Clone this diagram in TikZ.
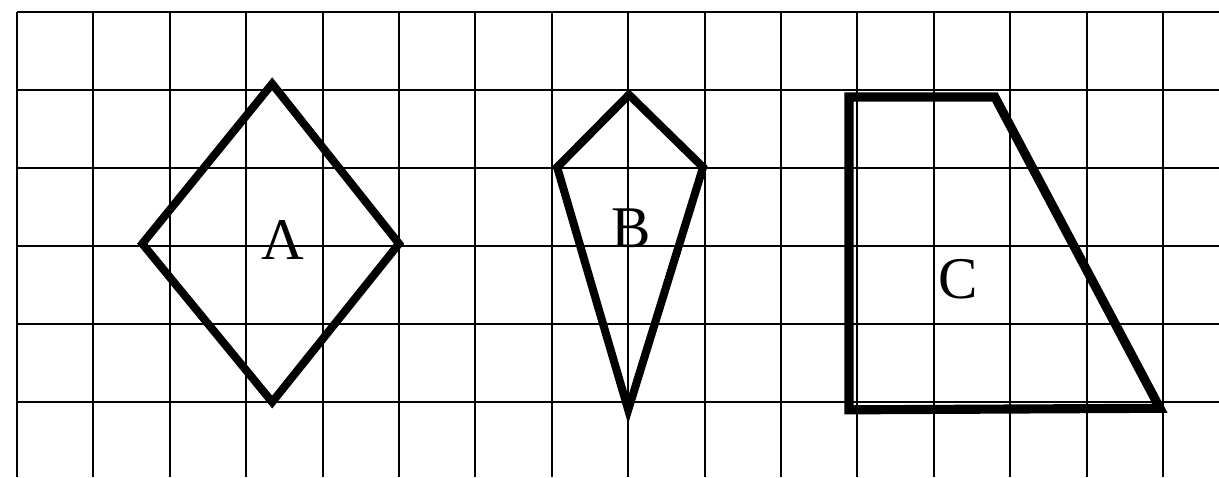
\documentclass[tikz,border=0pt]{standalone}
\usepackage{fontspec}
\setmainfont{Liberation Serif}
\begin{document}
\begin{tikzpicture}[x=1cm, y=1.021cm,
  gridline/.style={line width=0.7pt},
  fig/.style={line width=3pt},
  lbl/.style={font=\fontsize{22}{26}\selectfont, inner sep=0pt}
]
  \useasboundingbox (-0.2225,-0.962) rectangle (15.733,5.154);
  % grid
  \foreach \i in {0,...,15}
    \draw[gridline] (\i,-0.962) -- (\i,5);
  \foreach \j in {0,...,5}
    \draw[gridline] (0,\j) -- (15.733,\j);

  % figure A
  \coordinate (aw) at (1.64,2.03);
  \coordinate (an) at (3.34,4.08);
  \coordinate (ae) at (5.0,2.03);
  \coordinate (as) at (3.34,0);
  \draw[fig] (aw) -- (an) -- (ae) -- (as) -- cycle;
  \node[lbl] (la) at (3.48,2.08) {Λ};

  % figure B
  \coordinate (bn) at (8.01,3.94);
  \coordinate (be) at (8.98,3.01);
  \coordinate (bs) at (8.0,-0.1);
  \coordinate (bw) at (7.07,3.01);
  \draw[fig] (bw) -- (bn) -- (be) -- (bs) -- cycle;
  \node[lbl] (lb) at (8.04,2.23) {B};

  % figure C
  \coordinate (cnw) at (10.89,3.91);
  \coordinate (cne) at (12.8,3.91);
  \coordinate (cse) at (14.96,-0.08);
  \coordinate (csw) at (10.89,-0.1);
  \draw[fig, line width=3.4pt] (cnw) -- (cne) -- (cse) -- (csw) -- cycle;
  \node[lbl] (lc) at (12.32,1.58) {C};
\end{tikzpicture}
\end{document}
